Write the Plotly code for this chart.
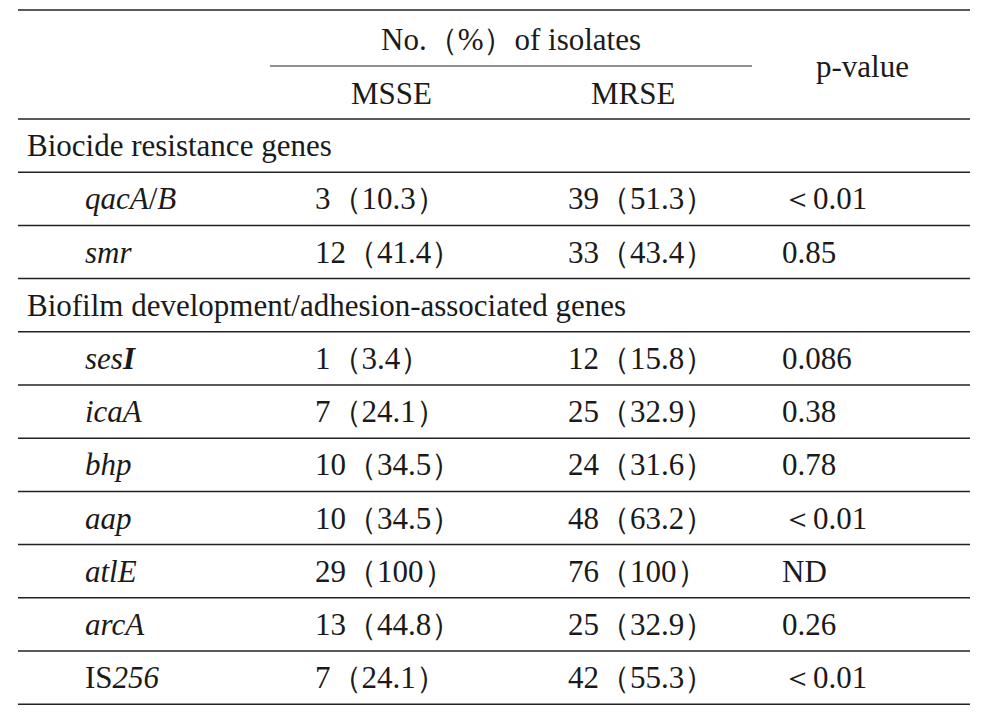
import plotly.graph_objects as go

# table contents
sections = {0: "Biocide resistance genes", 3: "Biofilm development/adhesion-associated genes"}
genes = ["<i>qacA</i>/<i>B</i>", "<i>smr</i>", "<i>ses<b>I</b></i>", "<i>icaA</i>", "<i>bhp</i>",
         "<i>aap</i>", "<i>atlE</i>", "<i>arcA</i>", "IS<i>256</i>"]
msse_n = [3, 12, 1, 7, 10, 10, 29, 13, 7]
msse_pct = ["10.3", "41.4", "3.4", "24.1", "34.5", "34.5", "100", "44.8", "24.1"]
mrse_n = [39, 33, 12, 25, 24, 48, 76, 25, 42]
mrse_pct = ["51.3", "43.4", "15.8", "32.9", "31.6", "63.2", "100", "32.9", "55.3"]
pvals = ["＜0.01", "0.85", "0.086", "0.38", "0.78", "＜0.01", "ND", "0.26", "＜0.01"]

FONT = dict(family="Liberation Serif, DejaVu Serif, serif", size=31, color="#1a1a1a")
top, head_bot, row_h = 10, 119, 53.2
x0, x1 = 18, 970

fig = go.Figure()
ann, shapes = [], []

def text(x, y, s, anchor="left"):
    ann.append(dict(x=x, y=y, text=s, showarrow=False, xanchor=anchor, yanchor="middle", font=FONT))

def hline(y, a=x0, b=x1, w=1.5):
    shapes.append(dict(type="line", x0=a, x1=b, y0=y, y1=y, line=dict(color="#222", width=w)))

# header
hline(top)
text(511, 39, "No.（%）of isolates", "center")
hline(66, 270, 752, 1.2)
text(391, 93, "MSSE", "center")
text(633, 93, "MRSE", "center")
text(862, 66, "p-value", "center")
hline(head_bot)

# body rows
rows = []
g = 0
for i in range(11):
    if i in sections:
        rows.append(("section", sections[i]))
    else:
        rows.append(("gene", g))
        g += 1
for i, (kind, v) in enumerate(rows):
    yc = head_bot + row_h * (i + 0.5)
    if kind == "section":
        text(25, yc, v)
    else:
        text(83, yc, genes[v])
        text(313, yc, f"{msse_n[v]}（{msse_pct[v]}）")
        text(566, yc, f"{mrse_n[v]}（{mrse_pct[v]}）")
        text(780, yc, pvals[v])
    hline(head_bot + row_h * (i + 1))

# page body has an 8px margin, so shift the view to compensate
fig.update_layout(
    width=990, height=715, margin=dict(l=0, r=0, t=0, b=0),
    paper_bgcolor="white", plot_bgcolor="white",
    xaxis=dict(range=[8, 998], visible=False, fixedrange=True),
    yaxis=dict(range=[723, 8], visible=False, fixedrange=True),
    annotations=ann, shapes=shapes, showlegend=False,
)
fig.write_html("out.html")
